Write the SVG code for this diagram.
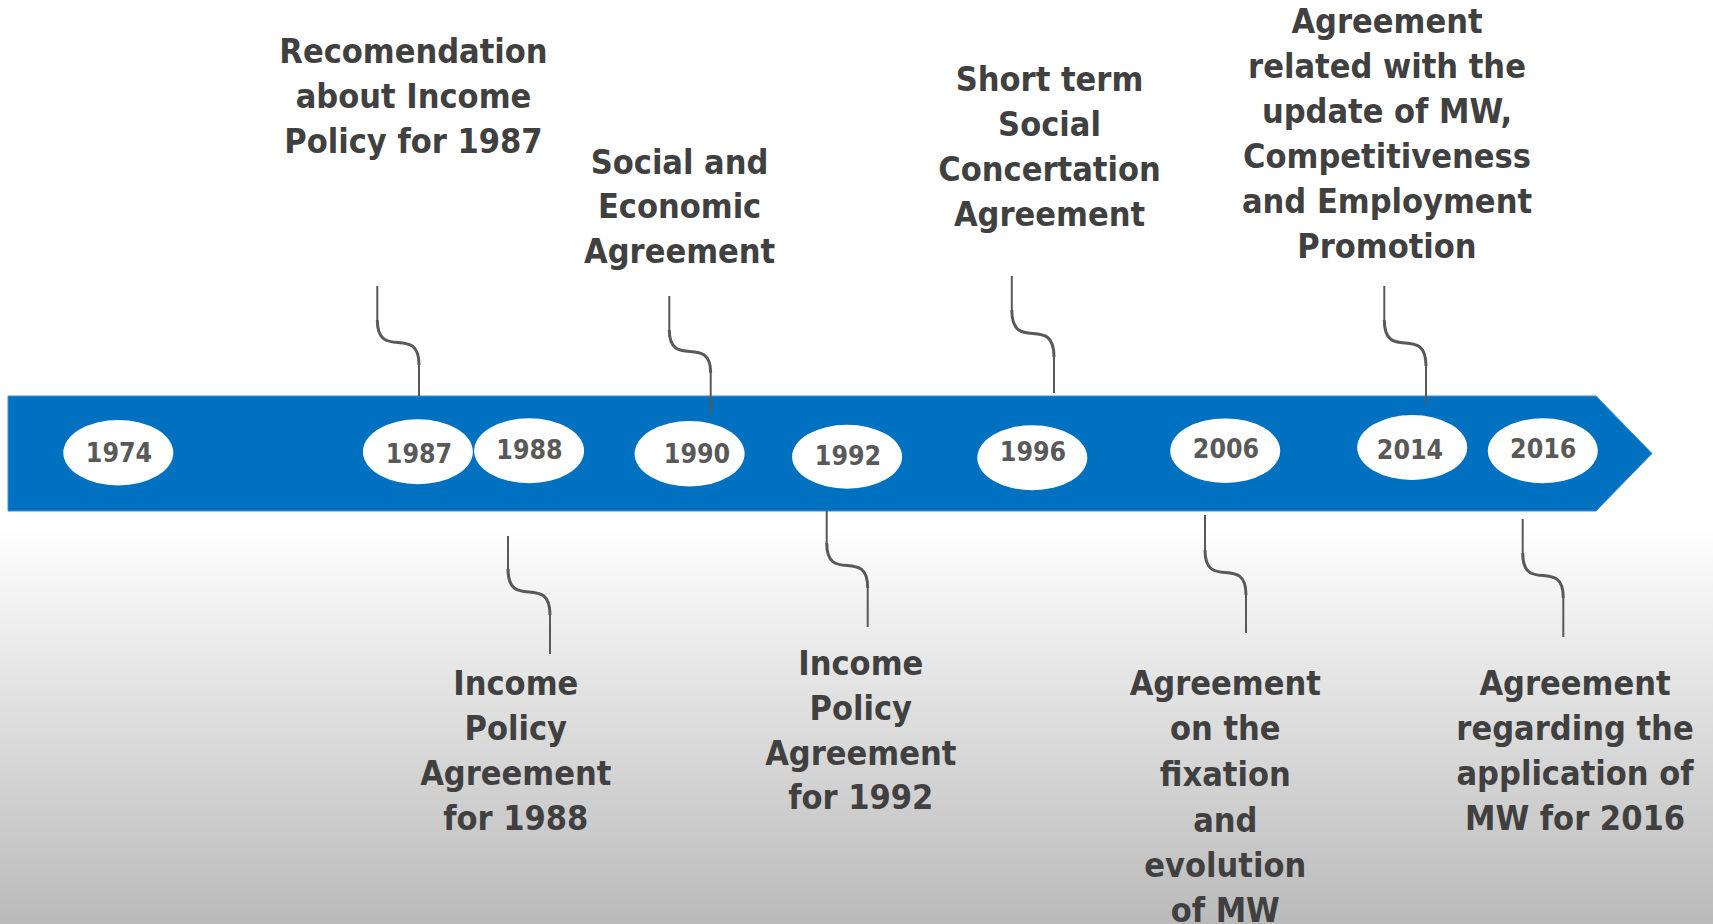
<svg xmlns="http://www.w3.org/2000/svg" width="1713" height="924" viewBox="0 0 1713 924">
<defs>
<linearGradient id="bg" gradientUnits="userSpaceOnUse" x1="0" y1="525" x2="0" y2="924">
<stop offset="0" stop-color="#ffffff"/>
<stop offset="1" stop-color="#bababa"/>
</linearGradient>
<style>
.lbl{font-family:'DejaVu Sans Condensed','DejaVu Sans',sans-serif;font-stretch:condensed;font-weight:bold;font-size:34px;fill:#404040;text-anchor:middle}
.yr{font-family:'DejaVu Sans Condensed','DejaVu Sans',sans-serif;font-stretch:condensed;font-weight:bold;font-size:26.5px;fill:#595959;text-anchor:middle}
.oval{fill:#ffffff}
.ln{fill:none;stroke:#595959;stroke-width:2}
.cv{fill:none;stroke:#595959;stroke-width:3}
</style>
</defs>
<rect x="0" y="0" width="1713" height="924" fill="url(#bg)"/>
<g id="timeline">
<polygon points="8,396 1596,396 1652,453.5 1596,511 8,511" fill="#0070c0" stroke="#3a8fd6" stroke-width="1"/>
</g>
<g id="connectors">
<g><path class="ln" d="M377.3,286 V320 M419,365 V396"/><path class="cv" d="M377.3,320 C377.3,362 419,323 419,365"/></g>
<g><path class="ln" d="M669.3,296 V330 M710.7,373 V413"/><path class="cv" d="M669.3,330 C669.3,370 710.7,333 710.7,373"/></g>
<g><path class="ln" d="M1011.8,276 V310 M1054,357 V393"/><path class="cv" d="M1011.8,310 C1011.8,354 1054,313 1054,357"/></g>
<g><path class="ln" d="M1384.3,286 V320 M1426,366 V403"/><path class="cv" d="M1384.3,320 C1384.3,363 1426,323 1426,366"/></g>
<g><path class="ln" d="M508,536 V569 M550,615 V654"/><path class="cv" d="M508,569 C508,612 550,572 550,615"/></g>
<g><path class="ln" d="M826.7,511 V543 M867.7,588 V627"/><path class="cv" d="M826.7,543 C826.7,585 867.7,546 867.7,588"/></g>
<g><path class="ln" d="M1205,515 V550 M1246,595 V633"/><path class="cv" d="M1205,550 C1205,592 1246,553 1246,595"/></g>
<g><path class="ln" d="M1522.7,519 V553 M1563.3,598 V637"/><path class="cv" d="M1522.7,553 C1522.7,595 1563.3,556 1563.3,598"/></g>
</g>
<g id="y1974"><ellipse class="oval" cx="118.3" cy="452.7" rx="55" ry="32.7"/><text class="yr" x="119" y="461.8">1974</text></g>
<g id="y1987"><ellipse class="oval" cx="417.9" cy="451.7" rx="55" ry="32.5"/><text class="yr" x="419" y="462.6">1987</text></g>
<g id="y1988"><ellipse class="oval" cx="529.1" cy="450.8" rx="55" ry="32.5"/><text class="yr" x="529.5" y="458.8">1988</text></g>
<g id="y1990"><ellipse class="oval" cx="689.6" cy="453.7" rx="55" ry="32.7"/><text class="yr" x="697" y="462.9">1990</text></g>
<g id="y1992"><ellipse class="oval" cx="847.1" cy="456.7" rx="55" ry="32"/><text class="yr" x="848" y="464.6">1992</text></g>
<g id="y1996"><ellipse class="oval" cx="1032.3" cy="457.7" rx="55" ry="32.5"/><text class="yr" x="1033" y="460.9">1996</text></g>
<g id="y2006"><ellipse class="oval" cx="1225.2" cy="450.7" rx="55" ry="32.3"/><text class="yr" x="1226" y="458.4">2006</text></g>
<g id="y2014"><ellipse class="oval" cx="1412.2" cy="447.5" rx="55" ry="32.5"/><text class="yr" x="1410" y="459.3">2014</text></g>
<g id="y2016"><ellipse class="oval" cx="1542.8" cy="450.8" rx="55" ry="32.5"/><text class="yr" x="1543.3" y="458.4">2016</text></g>
<g id="label1987">
<text class="lbl" x="413.5" y="63.3">Recomendation</text>
<text class="lbl" x="413.5" y="108">about Income</text>
<text class="lbl" x="413.5" y="152.7">Policy for 1987</text>
</g>
<g id="label1990">
<text class="lbl" x="679.6" y="173.5">Social and</text>
<text class="lbl" x="679.6" y="218">Economic</text>
<text class="lbl" x="679.6" y="262.5">Agreement</text>
</g>
<g id="label1996">
<text class="lbl" x="1049.5" y="90.7">Short term</text>
<text class="lbl" x="1049.5" y="136">Social</text>
<text class="lbl" x="1049.5" y="181">Concertation</text>
<text class="lbl" x="1049.5" y="226">Agreement</text>
</g>
<g id="label2014">
<text class="lbl" x="1387" y="33">Agreement</text>
<text class="lbl" x="1387" y="78">related with the</text>
<text class="lbl" x="1387" y="123">update of MW,</text>
<text class="lbl" x="1387" y="168">Competitiveness</text>
<text class="lbl" x="1387" y="213">and Employment</text>
<text class="lbl" x="1387" y="258">Promotion</text>
</g>
<g id="label1988">
<text class="lbl" x="515.8" y="695">Income</text>
<text class="lbl" x="515.8" y="740">Policy</text>
<text class="lbl" x="515.8" y="785">Agreement</text>
<text class="lbl" x="515.8" y="830">for 1988</text>
</g>
<g id="label1992">
<text class="lbl" x="860.8" y="675">Income</text>
<text class="lbl" x="860.8" y="720">Policy</text>
<text class="lbl" x="860.8" y="765">Agreement</text>
<text class="lbl" x="860.8" y="808.5">for 1992</text>
</g>
<g id="label2006">
<text class="lbl" x="1225.3" y="695">Agreement</text>
<text class="lbl" x="1225.3" y="740">on the</text>
<text class="lbl" x="1225.3" y="786">fixation</text>
<text class="lbl" x="1225.3" y="831.5">and</text>
<text class="lbl" x="1225.3" y="876.5">evolution</text>
<text class="lbl" x="1225.3" y="921.5">of MW</text>
</g>
<g id="label2016">
<text class="lbl" x="1575" y="695">Agreement</text>
<text class="lbl" x="1575" y="740">regarding the</text>
<text class="lbl" x="1575" y="785">application of</text>
<text class="lbl" x="1575" y="830">MW for 2016</text>
</g>
</svg>
